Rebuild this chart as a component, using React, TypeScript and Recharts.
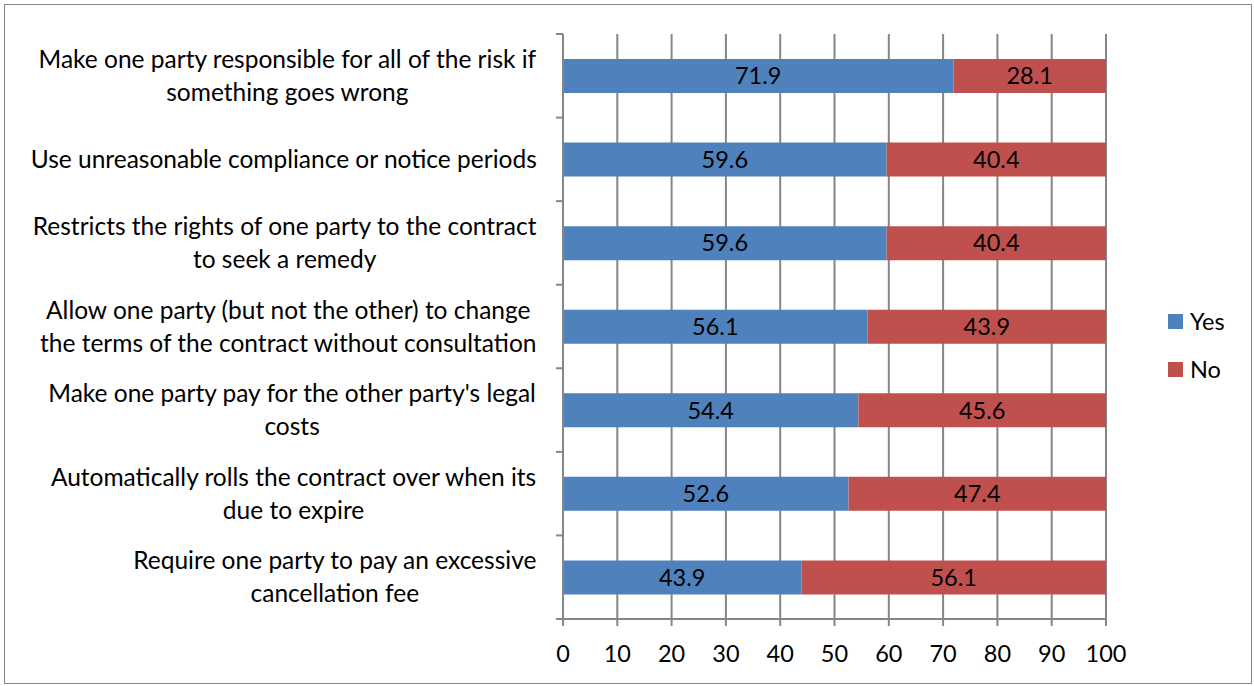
import React from 'react';
import { BarChart, Bar, XAxis, YAxis, CartesianGrid, Legend, LabelList } from 'recharts';

const categories = [
  'Make one party responsible for all of the risk if\nsomething goes wrong',
  'Use unreasonable compliance or notice periods',
  'Restricts the rights of one party to the contract\nto seek a remedy',
  'Allow one party (but not the other) to change\nthe terms of the contract without consultation',
  "Make one party pay for the other party's legal\ncosts",
  'Automatically rolls the contract over when its\ndue to expire',
  'Require one party to pay an excessive\ncancellation fee',
];
const yesValues = [71.9, 59.6, 59.6, 56.1, 54.4, 52.6, 43.9];
const noValues = [28.1, 40.4, 40.4, 43.9, 45.6, 47.4, 56.1];
const xTicks = [0, 10, 20, 30, 40, 50, 60, 70, 80, 90, 100];

const data = categories.map((name, i) => ({ name, Yes: yesValues[i], No: noValues[i] }));

const FONT = 'Lato, "Open Sans", sans-serif';
const FONT_SIZE = 23.5;
const LABEL_SIZE = 24.5;
const AXIS_GRAY = '#868686';
const BLUE = '#4F81BD';
const RED = '#C0504D';

let measureCtx: CanvasRenderingContext2D | null = null;
function textWidth(s: string) {
  if (!measureCtx) measureCtx = document.createElement('canvas').getContext('2d');
  if (!measureCtx) return s.length * 11;
  measureCtx.font = `${LABEL_SIZE}px Lato`;
  return measureCtx.measureText(s).width;
}

// category label: lines centred on each other, block right-aligned near the axis,
// plus an Excel-style tick mark on the band boundaries
function CategoryTick(props: any) {
  const { x, y, payload, index, visibleTicksCount } = props;
  const lines: string[] = String(payload.value).split('\n');
  const maxW = Math.max(...lines.map(textWidth));
  const cx = x - 26 - maxW / 2;
  const lineH = 33;
  const startY = y - ((lines.length - 1) * lineH) / 2;
  const half = payload.offset ?? 0;
  return (
    <g>
      <line x1={x - 7} x2={x} y1={y - half} y2={y - half} stroke={AXIS_GRAY} strokeWidth={2} />
      {index === visibleTicksCount - 1 && (
        <line x1={x - 7} x2={x} y1={y + half} y2={y + half} stroke={AXIS_GRAY} strokeWidth={2} />
      )}
      <text textAnchor="middle" fontFamily={FONT} fontSize={LABEL_SIZE} fill="#000">
        {lines.map((l, i) => (
          <tspan key={i} x={cx} y={startY + i * lineH} dy="0.35em">{l}</tspan>
        ))}
      </text>
    </g>
  );
}

function LegendBox() {
  const items = [
    { label: 'Yes', color: BLUE },
    { label: 'No', color: RED },
  ];
  return (
    <div style={{ fontFamily: FONT, fontSize: FONT_SIZE, color: '#000' }}>
      {items.map((it) => (
        <div key={it.label} style={{ display: 'flex', alignItems: 'center', height: 48 }}>
          <span style={{ display: 'inline-block', width: 15, height: 15, background: it.color, marginRight: 7 }} />
          {it.label}
        </div>
      ))}
    </div>
  );
}

export default function App() {
  return (
    <div style={{ position: 'absolute', left: 0, top: 0, width: 1254, height: 686, background: '#fff' }}>
      <div style={{ position: 'absolute', left: 4, top: 4, width: 1246, height: 678, border: `1px solid ${AXIS_GRAY}` }} />
      <BarChart
        width={1254}
        height={686}
        data={data}
        layout="vertical"
        margin={{ top: 34, right: 148, bottom: 27, left: 0 }}
        barSize={34}
      >
        <CartesianGrid horizontal={false} stroke={AXIS_GRAY} strokeWidth={2} />
        <XAxis
          type="number"
          domain={[0, 100]}
          ticks={xTicks}
          interval={0}
          height={40}
          tickSize={7}
          tickMargin={19}
          tick={{ fontFamily: FONT, fontSize: FONT_SIZE, fill: '#000' }}
          axisLine={{ stroke: AXIS_GRAY, strokeWidth: 2 }}
          tickLine={{ stroke: AXIS_GRAY, strokeWidth: 2 }}
        />
        <YAxis
          type="category"
          dataKey="name"
          width={563}
          interval={0}
          tickSize={0}
          tickMargin={0}
          tickLine={false}
          axisLine={{ stroke: AXIS_GRAY, strokeWidth: 2 }}
          tick={<CategoryTick />}
        />
        <Legend
          layout="vertical"
          align="center"
          verticalAlign="middle"
          wrapperStyle={{ left: 1168, top: 297, width: 80 }}
          content={<LegendBox />}
        />
        <Bar dataKey="Yes" stackId="a" fill={BLUE} isAnimationActive={false}>
          <LabelList dataKey="Yes" position="center" fill="#000" fontFamily={FONT} fontSize={FONT_SIZE} />
        </Bar>
        <Bar dataKey="No" stackId="a" fill={RED} isAnimationActive={false}>
          <LabelList dataKey="No" position="center" fill="#000" fontFamily={FONT} fontSize={FONT_SIZE} />
        </Bar>
      </BarChart>
    </div>
  );
}
